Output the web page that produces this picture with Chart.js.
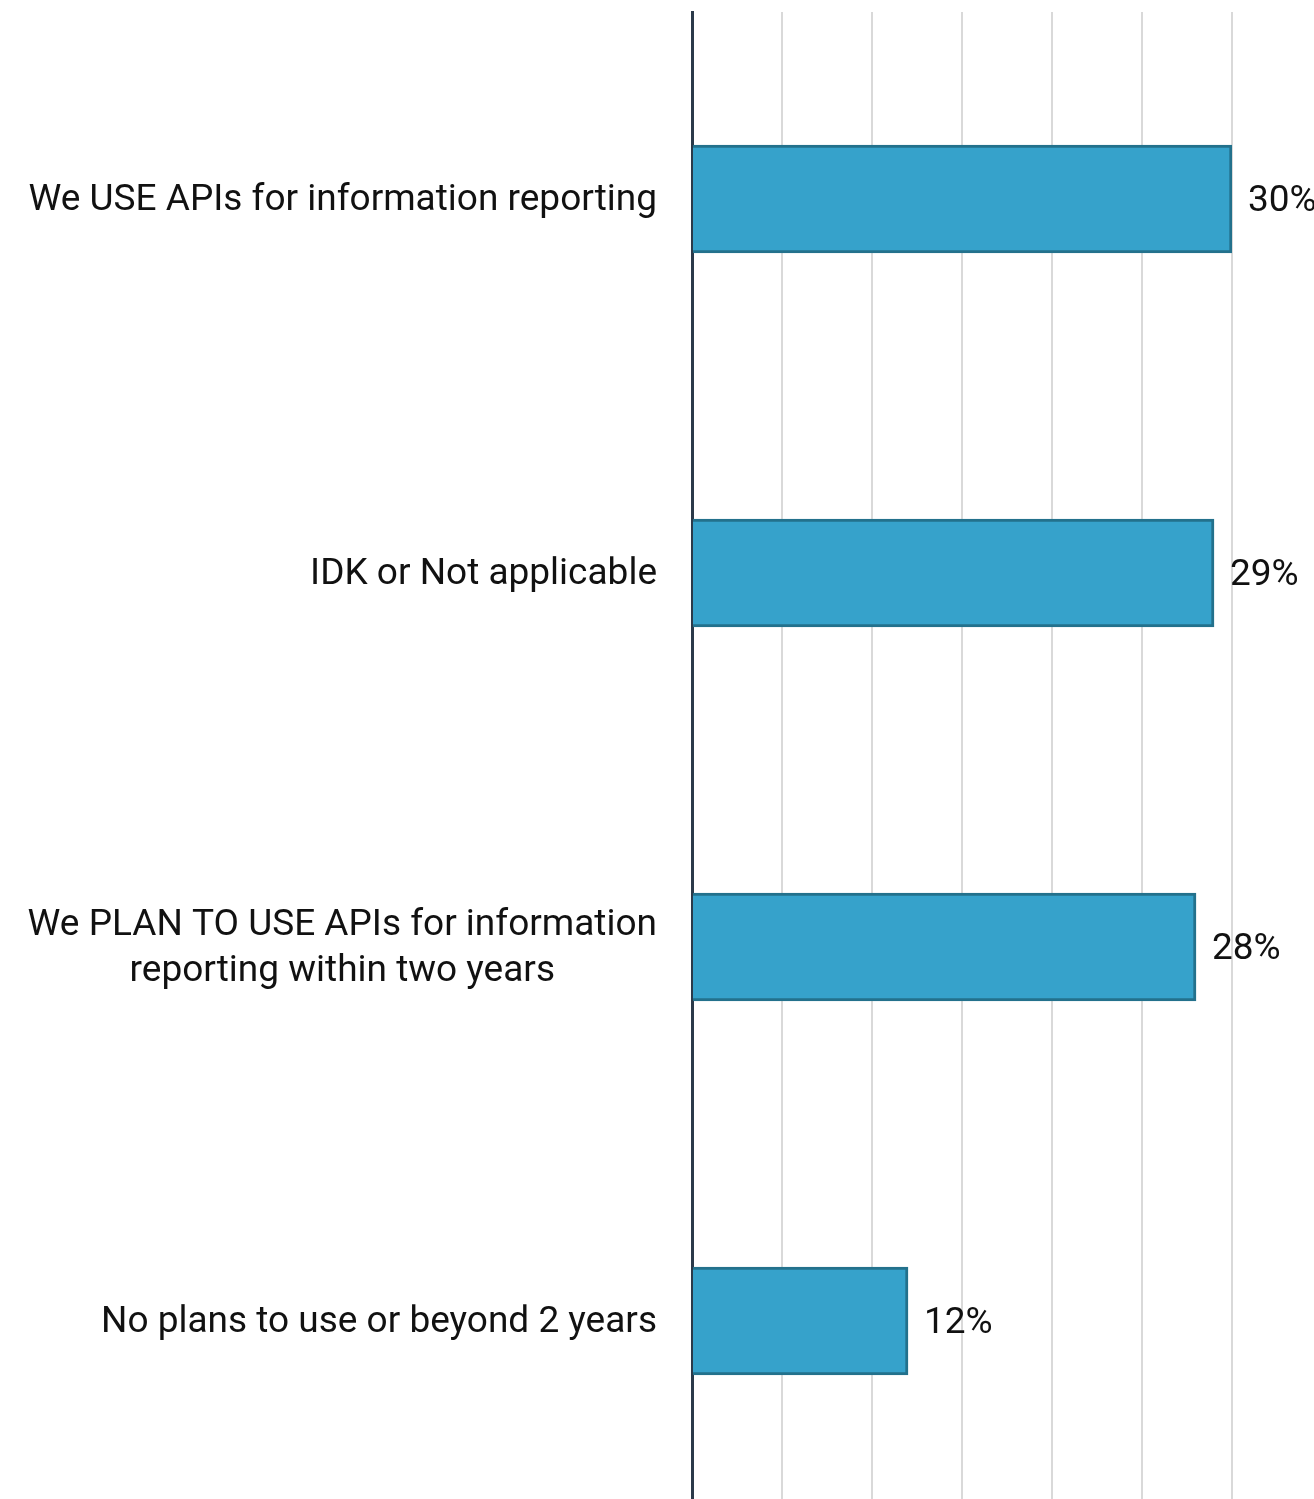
<!DOCTYPE html>
<html>
<head>
<meta charset="utf-8">
<script src="https://cdn.jsdelivr.net/npm/chart.js@4"></script>
<style>
  html, body { margin: 0; padding: 0; background: #fff; overflow: hidden; }
  #wrap { width: 1314px; height: 1508px; }
</style>
</head>
<body>
<div id="wrap"><canvas id="apiChart"></canvas></div>
<script>
// Date
const categories = [
    ['We USE APIs for information reporting'],
    ['IDK or Not applicable'],
    ['We PLAN TO USE APIs for information', 'reporting within two years'],
    ['No plans to use or beyond 2 years']
];
const values = [30, 29, 28, 12];
const valueLabels = ['30%', '29%', '28%', '12%'];

const FONT = 'Roboto, "Noto Sans", sans-serif';
const TEXT_COLOR = '#111111';

// Etichete pe axa Y, desenate centrat pe fiecare categorie
const categoryLabels = {
    id: 'categoryLabels',
    afterDraw(chart) {
        const ctx = chart.ctx;
        const yScale = chart.scales.y;
        const right = chart.chartArea.left - 35;
        ctx.save();
        ctx.font = '37px ' + FONT;
        ctx.fillStyle = TEXT_COLOR;
        ctx.textBaseline = 'middle';
        categories.forEach((lines, i) => {
            const yc = yScale.getPixelForValue(i) + 2;
            const lineH = 46;
            const widths = lines.map(l => ctx.measureText(l).width);
            const maxW = Math.max(...widths);
            const center = right - maxW / 2;
            lines.forEach((line, j) => {
                const y = yc + (j - (lines.length - 1) / 2) * lineH;
                ctx.textAlign = 'center';
                ctx.fillText(line, center, y);
            });
        });
        ctx.restore();
    }
};

// Procentele de la capătul barelor
const valueTags = {
    id: 'valueTags',
    afterDatasetsDraw(chart) {
        const ctx = chart.ctx;
        const meta = chart.getDatasetMeta(0);
        ctx.save();
        ctx.font = '37px ' + FONT;
        ctx.fillStyle = TEXT_COLOR;
        ctx.textAlign = 'left';
        ctx.textBaseline = 'middle';
        meta.data.forEach((bar, i) => {
            ctx.fillText(valueLabels[i], bar.x + 16, bar.y + 3);
        });
        ctx.restore();
    }
};

const ctx = document.getElementById('apiChart').getContext('2d');
new Chart(ctx, {
    type: 'bar',
    data: {
        labels: categories.map(c => c.join(' ')),
        datasets: [{
            data: values,
            backgroundColor: '#36A2CB',
            borderColor: '#23718C',
            borderWidth: 3,
            barThickness: 108
        }]
    },
    options: {
        indexAxis: 'y',
        responsive: true,
        maintainAspectRatio: false,
        animation: false,
        layout: { padding: { top: 12, right: 82, left: 0, bottom: 0 } },
        plugins: {
            legend: { display: false },
            tooltip: { enabled: false }
        },
        scales: {
            x: {
                min: 0,
                max: 30,
                ticks: { display: false, stepSize: 5 },
                grid: { color: '#D9D9D9', lineWidth: 2, drawTicks: false },
                border: { display: false },
                afterFit(scale) { scale.height = 0; }
            },
            y: {
                ticks: { display: false },
                grid: { display: false, drawTicks: false },
                border: { color: '#2B3A4A', width: 3 },
                afterFit(scale) { scale.width = 692; }
            }
        }
    },
    plugins: [categoryLabels, valueTags]
});
</script>
</body>
</html>
